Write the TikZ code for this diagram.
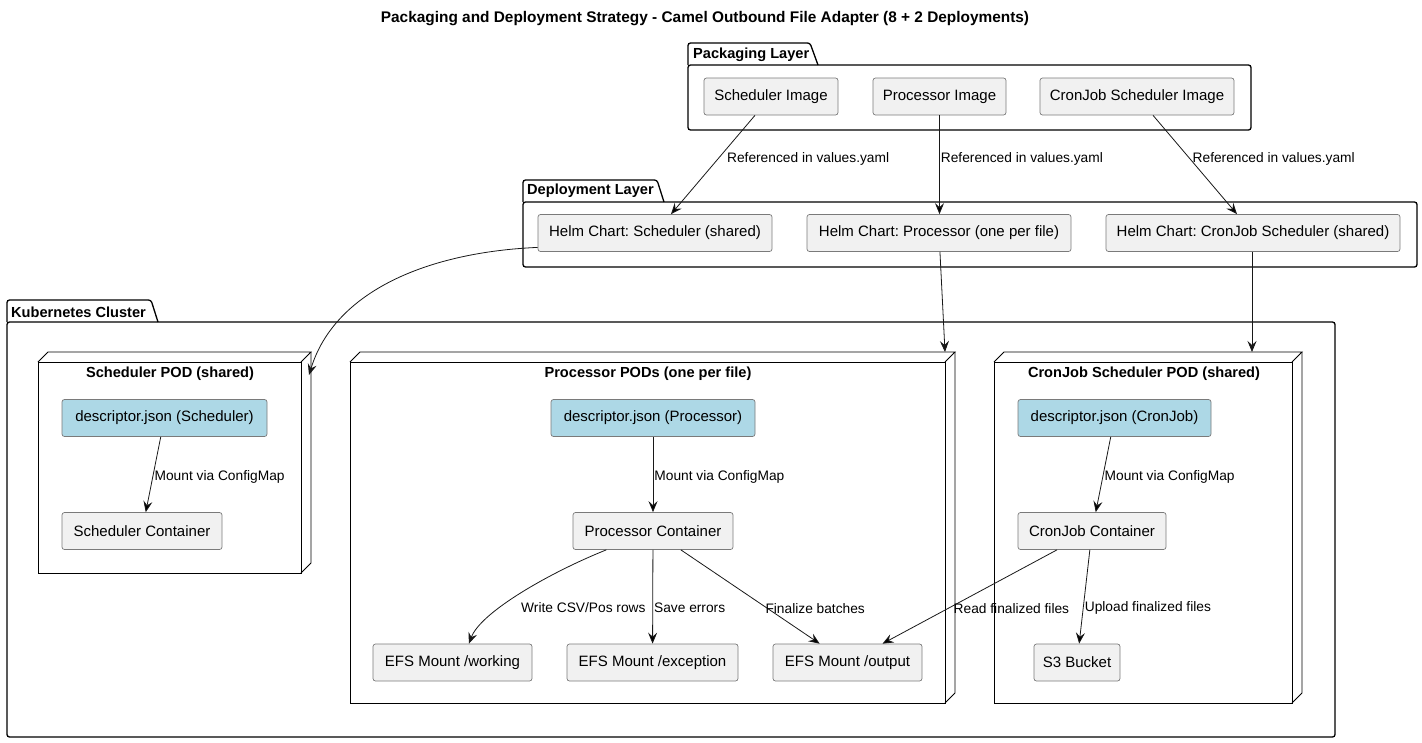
\documentclass[tikz,border=0pt]{standalone}
\usepackage{fontspec}
\setmainfont{Liberation Sans}
\usetikzlibrary{arrows.meta}
\definecolor{boxfill}{HTML}{F1F1F1}
\definecolor{boxline}{HTML}{7A7A7A}
\definecolor{descfill}{HTML}{ADD8E6}
\definecolor{ink}{HTML}{181818}
\frenchspacing
\tikzset{
  box/.style={draw=boxline, fill=boxfill, rounded corners=2.5pt, line width=0.7pt,
    minimum height=37pt, inner xsep=0pt, font=\fontsize{15}{18}\selectfont},
  desc/.style={box, fill=descfill},
  pkg/.style={draw=black, line width=1.3pt, rounded corners=2.5pt},
  pod/.style={draw=black, line width=0.9pt},
  arr/.style={draw=ink, line width=0.8pt, -{Stealth[length=11pt, width=9pt, inset=4pt]}},
  lbl/.style={font=\fontsize{13.75}{16}\selectfont, anchor=west, inner sep=1pt, yshift=-2pt},
  ttl/.style={font=\bfseries\fontsize{14.6}{17}\selectfont, inner sep=0pt}
}
\begin{document}
\begin{tikzpicture}[x=1pt, y=-1pt]
            \useasboundingbox (0,0) rectangle (1422,742);
            \node[ttl, font=\bfseries\fontsize{15.4}{18}\selectfont] (title) at (705,19) {Packaging and Deployment Strategy - Camel Outbound File Adapter (8 + 2 Deployments)};

            % packages
            \draw[pkg] (688,65) -- (688,43) -- (810,43) -- (818,65);
            \draw[pkg] (688,65) rectangle (1251,130);
            \node[ttl, anchor=west] (pack) at (693,55) {Packaging Layer};

            \draw[pkg] (523,202) -- (523,180) -- (657,180) -- (664,202);
            \draw[pkg] (523,202) rectangle (1417,267);
            \node[ttl, anchor=west] (deploy) at (527,191) {Deployment Layer};

            \draw[pkg] (7,322) -- (7,300) -- (151,300) -- (158,322);
            \draw[pkg] (7,322) rectangle (1335,737);
            \node[ttl, anchor=west] (cluster) at (11,312) {Kubernetes Cluster};

            % pods
            \draw[pod] (38,362) rectangle (301,573);
            \draw[pod] (38,362) -- (48,352) -- (311,352) -- (301,362);
            \draw[pod] (311,352) -- (311,563) -- (301,573);
            \node[ttl] (schedTitle) at (170,374) {Scheduler POD (shared)};

            \draw[pod] (350,362) rectangle (945,703);
            \draw[pod] (350,362) -- (360,352) -- (955,352) -- (945,362);
            \draw[pod] (955,352) -- (955,693) -- (945,703);
            \node[ttl] (procTitle) at (648,374) {Processor PODs (one per file)};

            \draw[pod] (994,362) rectangle (1292,703);
            \draw[pod] (994,362) -- (1004,352) -- (1302,352) -- (1292,362);
            \draw[pod] (1302,352) -- (1302,693) -- (1292,703);
            \node[ttl] (cronTitle) at (1144,374) {CronJob Scheduler POD (shared)};

            \coordinate (schedPod) at (309,375);
            \coordinate (procPod) at (945,352);
            \coordinate (cronPod) at (1252,352);

            \begin{scope}[every node/.style={box}]
                \node (imgSched) at (771,96.5) [minimum width=134pt] {Scheduler Image};
                \node (imgProc) at (939.5,96.5) [minimum width=133pt] {Processor Image};
                \node (imgCron) at (1137,96.5) [minimum width=194pt] {CronJob Scheduler Image};

                \node (helmSched) at (655,233) [minimum width=234pt] {Helm Chart: Scheduler (shared)};
                \node (helmProc) at (939,233) [minimum width=264pt] {Helm Chart: Processor (one per file)};
                \node (helmCron) at (1253,233) [minimum width=294pt] {Helm Chart: CronJob Scheduler (shared)};

                \node (descSched) at (164.5,418) [desc, minimum width=205pt] {descriptor.json (Scheduler)};
                \node (contSched) at (142,531) [minimum width=160pt] {Scheduler Container};

                \node (descProc) at (653,418) [desc, minimum width=204pt] {descriptor.json (Processor)};
                \node (contProc) at (653,531) [minimum width=160pt] {Processor Container};
                \node (efsWork) at (452.5,662.5) [minimum width=159pt] {EFS Mount /working};
                \node (efsExc) at (652.5,662.5) [minimum width=171pt] {EFS Mount /exception};
                \node (efsOut) at (847.5,662.5) [minimum width=149pt] {EFS Mount /output};

                \node (descCron) at (1114.5,418) [desc, minimum width=193pt] {descriptor.json (CronJob)};
                \node (contCron) at (1092,531) [minimum width=148pt] {CronJob Container};
                \node (s3) at (1077,662.5) [minimum width=86pt] {S3 Bucket};
            \end{scope}

            \path[arr] (imgSched) edge node[lbl, pos=0.42, xshift=6pt] {Referenced in values.yaml} (helmSched);
            \path[arr] (imgProc) edge node[lbl, pos=0.42] {Referenced in values.yaml} (imgProc |- helmProc.north);
            \path[arr] (imgCron) edge node[lbl, pos=0.42, xshift=3pt] {Referenced in values.yaml} (helmCron);

            \draw[arr] (helmSched.187) .. controls (430,252) and (335,290) .. (schedPod);
            \draw[arr] (helmProc) -- (procPod);
            \draw[arr] ([xshift=-1pt]helmCron.south) -- (cronPod);

            \path[arr] (descSched) edge node[lbl, pos=0.5] {Mount via ConfigMap} (contSched);
            \path[arr] (descProc) edge node[lbl, pos=0.5] {Mount via ConfigMap} (contProc);
            \path[arr] (descCron) edge node[lbl, pos=0.5] {Mount via ConfigMap} (contCron);

            \draw[arr] (contProc.202) .. controls +(-55,22) and +(12,-32) .. node[lbl, pos=0.62, xshift=16pt] {Write CSV/Pos rows} (efsWork.49);
            \path[arr] (contProc) edge node[lbl, pos=0.6] {Save errors} (efsExc);
            \path[arr] (contProc) edge node[lbl, pos=0.6] {Finalize batches} (efsOut);
            \path[arr] (contCron) edge node[lbl, pos=0.6] {Read finalized files} (efsOut);
            \path[arr] (contCron) edge node[lbl, pos=0.6] {Upload finalized files} (s3);
        \end{tikzpicture}
\end{document}
